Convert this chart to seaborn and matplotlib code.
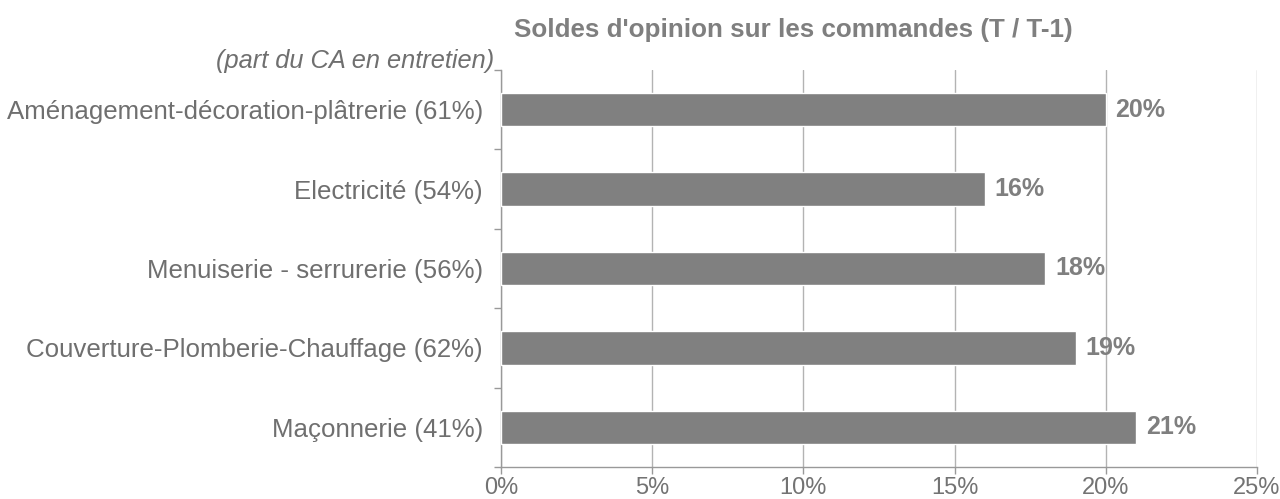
import numpy as np
import pandas as pd
import matplotlib
matplotlib.use("Agg")
import matplotlib.pyplot as plt
import seaborn as sns

# data
categories = ["Aménagement-décoration-plâtrerie (61%)",
              "Electricité (54%)",
              "Menuiserie - serrurerie (56%)",
              "Couverture-Plomberie-Chauffage (62%)",
              "Maçonnerie (41%)"]
values = [20, 16, 18, 19, 21]
xticks = [0, 5, 10, 15, 20, 25]

df = pd.DataFrame({"secteur": categories, "solde": values})

sns.set_theme(style="white")
plt.rcParams['font.family'] = ['Liberation Sans', 'DejaVu Sans']

fig = plt.figure(figsize=(12.8, 4.99), dpi=100)
ax = fig.add_axes([0.3914, 0.064, 0.5906, 0.796])

sns.barplot(data=df, y="secteur", x="solde", color="#808080", saturation=1,
            width=0.42, orient="h", ax=ax, zorder=3)

ax.set_xlim(0, 25)
ax.set_ylim(len(categories) - 0.5, -0.5)
ax.set_xticks(xticks)
ax.set_xticklabels([f"{t}%" for t in xticks], fontsize=17, color="#737373")
ax.tick_params(axis="x", which="major", length=5, width=1, color="#999999",
               direction="out", pad=2, bottom=True)

# category labels between the boundary ticks, like the original
ax.set_yticks(range(len(categories)))
ax.set_yticklabels(categories, fontsize=18.6, color="#6f6f6f")
ax.tick_params(axis="y", which="major", length=0, pad=13)
ax.set_yticks(np.arange(-0.5, len(categories)), minor=True)
ax.tick_params(axis="y", which="minor", length=5, width=1, color="#999999",
               direction="out", left=True)

ax.grid(axis="x", color="#b3b3b3", linewidth=1, zorder=0)
ax.grid(axis="y", visible=False)
ax.set_xlabel("")
ax.set_ylabel("")
for s in ["top", "right"]:
    ax.spines[s].set_visible(False)
for s in ["left", "bottom"]:
    ax.spines[s].set_color("#999999")
    ax.spines[s].set_linewidth(1)

for i, v in enumerate(values):
    ax.annotate(f"{v}%", (v, i), xytext=(7, 0), textcoords="offset points",
                va="center", ha="left", fontsize=18, fontweight="bold",
                color="#7f7f7f")

fig.text(0.6195, 0.94, "Soldes d'opinion sur les commandes (T / T-1)",
         ha="center", va="center", fontsize=18.7, fontweight="bold",
         color="#7f7f7f")
fig.text(0.386, 0.878, "(part du CA en entretien)", ha="right", va="center",
         fontsize=18.3, fontstyle="italic", color="#6f6f6f")

fig.savefig("out.png", dpi=100)
